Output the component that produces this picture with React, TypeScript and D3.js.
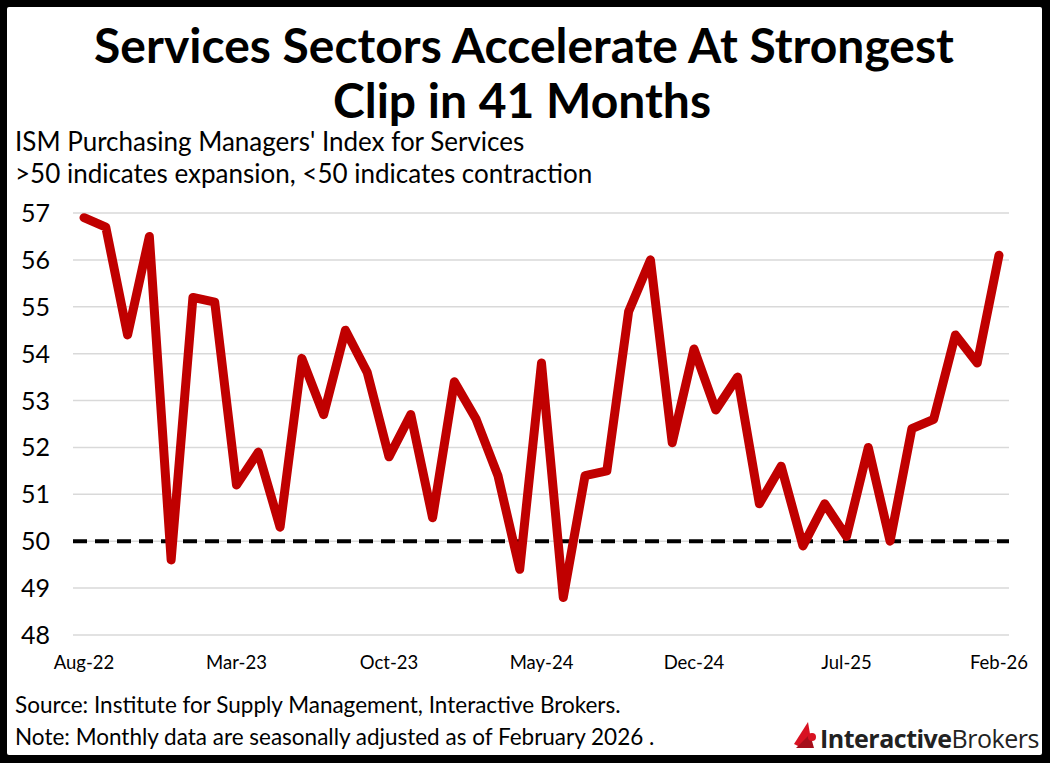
import * as d3 from "d3";
import { useEffect, useRef } from "react";

const months = [
  "Aug-22", "Sep-22", "Oct-22", "Nov-22", "Dec-22", "Jan-23", "Feb-23", "Mar-23", "Apr-23", "May-23",
  "Jun-23", "Jul-23", "Aug-23", "Sep-23", "Oct-23", "Nov-23", "Dec-23", "Jan-24", "Feb-24", "Mar-24",
  "Apr-24", "May-24", "Jun-24", "Jul-24", "Aug-24", "Sep-24", "Oct-24", "Nov-24", "Dec-24", "Jan-25",
  "Feb-25", "Mar-25", "Apr-25", "May-25", "Jun-25", "Jul-25", "Aug-25", "Sep-25", "Oct-25", "Nov-25",
  "Dec-25", "Jan-26", "Feb-26",
];
const pmi = [
  56.9, 56.7, 54.4, 56.5, 49.6, 55.2, 55.1, 51.2, 51.9, 50.3,
  53.9, 52.7, 54.5, 53.6, 51.8, 52.7, 50.5, 53.4, 52.6, 51.4,
  49.4, 53.8, 48.8, 51.4, 51.5, 54.9, 56.0, 52.1, 54.1, 52.8,
  53.5, 50.8, 51.6, 49.9, 50.8, 50.1, 52.0, 50.0, 52.4, 52.6,
  54.4, 53.8, 56.1,
];
const xTicks = ["Aug-22", "Mar-23", "Oct-23", "May-24", "Dec-24", "Jul-25", "Feb-26"];
const yTicks = [48, 49, 50, 51, 52, 53, 54, 55, 56, 57];

const W = 1050, H = 763;

const App = () => {
  const ref = useRef<SVGSVGElement>(null);

  useEffect(() => {
    const svg = d3.select(ref.current);
    svg.selectAll("*").remove();
    const font = "Lato, 'Open Sans', sans-serif";

    svg.append("rect").attr("width", W).attr("height", H).attr("fill", "#000");
    // white panel inside the black frame
    svg.append("rect").attr("x", 7).attr("y", 7).attr("width", W - 15).attr("height", H - 15)
      .attr("rx", 2).attr("fill", "#fff");

    // title
    const title = svg.append("text").attr("text-anchor", "middle")
      .attr("font-family", font).attr("font-weight", 700).attr("font-size", 48).attr("fill", "#000");
    title.append("tspan").attr("x", 524).attr("y", 63).text("Services Sectors Accelerate At Strongest");
    title.append("tspan").attr("x", 522).attr("y", 118).text("Clip in 41 Months");

    svg.append("text").attr("x", 15).attr("y", 151).attr("font-family", font).attr("font-size", 26)
      .text("ISM Purchasing Managers' Index for Services");
    svg.append("text").attr("x", 15).attr("y", 183).attr("font-family", font).attr("font-size", 26)
      .text(">50 indicates expansion, <50 indicates contraction");

    const x = d3.scalePoint<string>().domain(months).range([84, 999]);
    const y = d3.scaleLinear().domain([48, 57]).range([635, 213]);

    // grid
    svg.append("g").selectAll("line").data(yTicks).enter().append("line")
      .attr("x1", 73).attr("x2", 1009)
      .attr("y1", (d) => y(d)).attr("y2", (d) => y(d))
      .attr("stroke", "#d9d9d9").attr("stroke-width", 1.5);

    // y labels
    svg.append("g").selectAll("text").data(yTicks).enter().append("text")
      .attr("x", 21).attr("y", (d) => y(d) + 9)
      .attr("font-family", font).attr("font-size", 25).attr("fill", "#000")
      .text((d) => d);

    // x labels
    svg.append("g").selectAll("text").data(xTicks).enter().append("text")
      .attr("x", (d) => x(d)!).attr("y", 669).attr("text-anchor", "middle")
      .attr("font-family", font).attr("font-size", 18.5).attr("fill", "#000")
      .text((d) => d);

    // 50 threshold
    svg.append("line").attr("x1", 73).attr("x2", 1009).attr("y1", y(50)).attr("y2", y(50))
      .attr("stroke", "#000").attr("stroke-width", 4).attr("stroke-dasharray", "14,8");

    const line = d3.line<number>().x((_, i) => x(months[i])!).y((d) => y(d));
    svg.append("path").datum(pmi).attr("d", line).attr("fill", "none")
      .attr("stroke", "#c00000").attr("stroke-width", 9)
      .attr("stroke-linejoin", "round").attr("stroke-linecap", "round");

    // footnotes
    svg.append("text").attr("x", 15).attr("y", 713).attr("font-family", font).attr("font-size", 22.5)
      .text("Source: Institute for Supply Management, Interactive Brokers.");
    svg.append("text").attr("x", 15).attr("y", 745).attr("font-family", font).attr("font-size", 22.5)
      .text("Note: Monthly data are seasonally adjusted as of February 2026 .");

    // logo
    const logo = svg.append("g").attr("transform", "translate(794,714)");
    logo.append("path").attr("d", "M0,30 L14,8 L16,20 L8,34 Z").attr("fill", "#d81222");
    logo.append("path").attr("d", "M2,34 L16,20 L20,34 Z").attr("fill", "#a50e1a");
    logo.append("circle").attr("cx", 18).attr("cy", 23).attr("r", 4).attr("fill", "#d81222");
    const lt = logo.append("text").attr("x", 26).attr("y", 34).attr("font-family", "'Open Sans', sans-serif")
      .attr("font-size", 25).attr("fill", "#222").attr("letter-spacing", -0.5);
    lt.append("tspan").attr("font-weight", 700).text("Interactive");
    lt.append("tspan").attr("font-weight", 400).text("Brokers");
  }, []);

  return (
    <svg
      ref={ref}
      width={W}
      height={H}
      style={{ display: "block", position: "absolute", left: 0, top: 0 }}
    />
  );
};

export default App;
